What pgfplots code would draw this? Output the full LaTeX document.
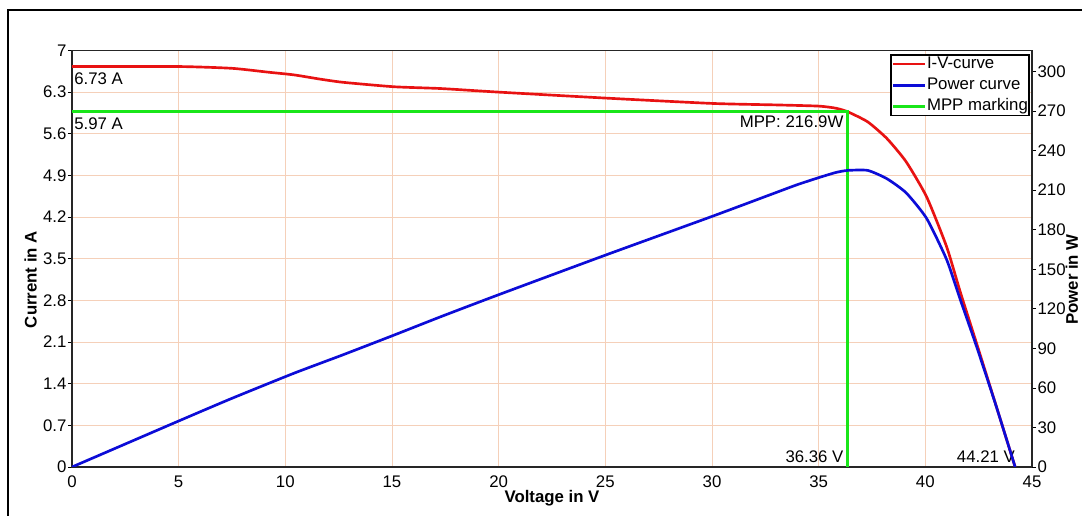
\documentclass[border=0pt]{standalone}
\usepackage{fontspec}
\setmainfont{Liberation Sans}
\usepackage{pgfplots}
\pgfplotsset{compat=1.18}
\definecolor{ivred}{RGB}{232,18,18}
\definecolor{pblue}{RGB}{12,12,215}
\definecolor{mppgreen}{RGB}{25,230,25}
\definecolor{gridc}{RGB}{245,208,185}
\newcommand{\tf}{\fontsize{12.6}{14}\selectfont}

\pgfplotstableread{
V I
0 6.73
5 6.73
7.5 6.70
9.2 6.635
10.4 6.59
11.6 6.52
12.7 6.465
15.1 6.39
17.3 6.36
20 6.30
25 6.20
30 6.11
33 6.085
35 6.065
35.8 6.03
36.36 5.97
37.3 5.80
38.2 5.52
39.1 5.13
40.06 4.54
41.0 3.70
41.63 2.95
42.4 2.08
43.3 1.05
44.21 0
}\ivdata

\pgfplotstableread{
V P
0 0
5 34.9
7.5 52.1
10.4 71.1
12.7 85.1
15.1 100.1
17.3 114.1
20 130.7
25 160.7
30 190.1
33 208.2
34 214.2
35 219.5
35.8 223.4
36.36 225.0
37.3 225.0
38.2 218.7
39.1 208.0
40.06 188.6
41.0 157.3
41.63 127.4
42.4 91.5
43.3 47.2
44.21 0
}\pdata

\begin{document}
\begin{tikzpicture}
\path[use as bounding box] (-54pt,-36.75pt) rectangle (757.5pt,350.25pt);
\draw[line width=1pt] (-48pt,-60pt) -- (-48pt,342.75pt) -- (800pt,342.75pt);

\begin{axis}[
  at={(0,0)}, anchor=south west,
  scale only axis, width=720pt, height=312.4pt,
  xmin=0, xmax=45, ymin=0, ymax=7,
  xtick={0,5,...,45},
  ytick={0,0.7,1.4,2.1,2.8,3.5,4.2,4.9,5.6,6.3,7},
  yticklabels={0,0.7,1.4,2.1,2.8,3.5,4.2,4.9,5.6,6.3,7},
  xtick pos=bottom, ytick pos=left,
  tick align=outside, major tick length=3pt,
  xtick style={draw=none},
  ytick style={line width=0.6pt, black},
  grid=major,
  major grid style={gridc, line width=0.7pt},
  axis line style={line width=1.4pt, black!85},
  /pgf/number format/assume math mode=true,
  tick label style={font=\tf},
  xticklabel style={inner sep=1pt, yshift=-2.5pt},
  yticklabel style={inner sep=1pt},
  xlabel={\textbf{Voltage in V}},
  ylabel={\textbf{Current in A}},
  label style={font=\tf},
  xlabel style={at={(axis description cs:0.5,0)}, anchor=center, yshift=-23.5pt},
  ylabel style={at={(axis description cs:-0.043,0.45)}, anchor=center},
]
\addplot[ivred, line width=2pt, smooth, tension=0.35] table[x=V,y=I] {\ivdata};
\addplot[mppgreen, line width=2pt] coordinates {(0,5.97) (36.36,5.97) (36.36,0)};
\node[anchor=north west, inner sep=0pt, font=\tf, xshift=1.5pt, yshift=-4.3pt] at (axis cs:0,6.73) {6.73 A};
\node[anchor=north west, inner sep=0pt, font=\tf, xshift=1.5pt, yshift=-4pt] at (axis cs:0,5.97) {5.97 A};
\node[anchor=north east, inner sep=0pt, font=\tf, xshift=-3pt, yshift=-2.5pt] at (axis cs:36.36,5.97) {MPP: 216.9W};
\node[anchor=south east, inner sep=0pt, font=\tf, xshift=-3pt, yshift=3.2pt] at (axis cs:36.36,0) {36.36 V};
\node[anchor=south east, inner sep=0pt, font=\tf, xshift=0pt, yshift=3.2pt] at (axis cs:44.21,0) {44.21 V};
\end{axis}

\begin{axis}[
  at={(0,0)}, anchor=south west,
  scale only axis, width=720pt, height=312.4pt,
  xmin=0, xmax=45, ymin=0, ymax=316,
  axis x line=none, axis y line*=right,
  ytick={0,30,...,300},
  tick align=outside, major tick length=3pt,
  ytick style={line width=0.6pt, black},
  axis line style={line width=1.4pt, black!85},
  /pgf/number format/assume math mode=true,
  tick label style={font=\tf},
  yticklabel style={inner sep=1pt},
  ylabel={\textbf{Power in W}},
  label style={font=\tf},
  ylabel style={at={(axis description cs:1.0415,0.45)}, anchor=center, rotate=0},
  legend style={at={(1,1)}, anchor=north east, xshift=-1.5pt, yshift=-2.8pt,
    draw=black, line width=1.2pt, font=\tf, fill=white,
    inner xsep=0.5pt, inner ysep=0.5pt, row sep=3.5pt,
    nodes={inner sep=0.5pt, text height=9pt, text depth=2.5pt}},
  legend cell align=left,
  legend image code/.code={\draw[#1] (0pt,0pt) -- (24pt,0pt);},
]
\addlegendimage{ivred, line width=2pt}
\addlegendentry{I-V-curve}
\addplot[pblue, line width=2pt, smooth, tension=0.35] table[x=V,y=P] {\pdata};
\addlegendentry{Power curve}
\addlegendimage{mppgreen, line width=2pt}
\addlegendentry{MPP marking}
\end{axis}
\end{tikzpicture}
\end{document}
